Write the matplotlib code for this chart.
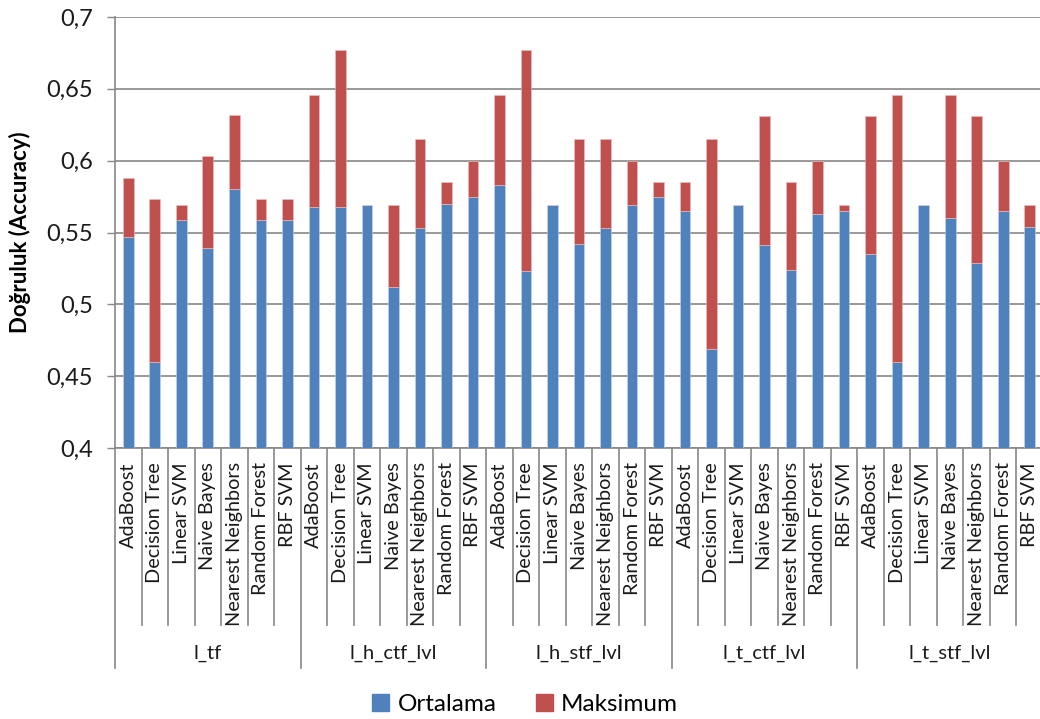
import numpy as np
import matplotlib
matplotlib.use("Agg")
import matplotlib.pyplot as plt
from matplotlib.patches import Patch

plt.rcParams["font.family"] = ["Lato", "DejaVu Sans"]

# Sınıflandırıcılar ve öznitelik grupları
classifiers = ["AdaBoost", "Decision Tree", "Linear SVM", "Naive Bayes",
               "Nearest Neighbors", "Random Forest", "RBF SVM"]
groups = ["l_tf", "l_h_ctf_lvl", "l_h_stf_lvl", "l_t_ctf_lvl", "l_t_stf_lvl"]

# Ortalama doğruluk (her grup için 7 sınıflandırıcı)
mean_l_tf = [0.547, 0.460, 0.559, 0.539, 0.580, 0.559, 0.559]
mean_l_h_ctf = [0.568, 0.568, 0.569, 0.512, 0.553, 0.570, 0.575]
mean_l_h_stf = [0.583, 0.523, 0.569, 0.542, 0.553, 0.569, 0.575]
mean_l_t_ctf = [0.565, 0.469, 0.569, 0.541, 0.524, 0.563, 0.565]
mean_l_t_stf = [0.535, 0.460, 0.569, 0.560, 0.529, 0.565, 0.554]

# Maksimum doğruluk
max_l_tf = [0.588, 0.573, 0.569, 0.603, 0.632, 0.573, 0.573]
max_l_h_ctf = [0.646, 0.677, 0.569, 0.569, 0.615, 0.585, 0.600]
max_l_h_stf = [0.646, 0.677, 0.569, 0.615, 0.615, 0.600, 0.585]
max_l_t_ctf = [0.585, 0.615, 0.569, 0.631, 0.585, 0.600, 0.569]
max_l_t_stf = [0.631, 0.646, 0.569, 0.646, 0.631, 0.600, 0.569]

yticks = [0.4, 0.45, 0.5, 0.55, 0.6, 0.65, 0.7]
ytick_labels = ["0,4", "0,45", "0,5", "0,55", "0,6", "0,65", "0,7"]

means = np.array(mean_l_tf + mean_l_h_ctf + mean_l_h_stf + mean_l_t_ctf + mean_l_t_stf)
maxs = np.array(max_l_tf + max_l_h_ctf + max_l_h_stf + max_l_t_ctf + max_l_t_stf)
n_cls = len(classifiers)
x = np.arange(len(means))

blue = "#4F81BD"
red = "#C0504D"
grid_c = "#878787"

fig = plt.figure(figsize=(10.4, 7.19), dpi=100)
ax = fig.add_axes([115 / 1040, 271 / 719, 928 / 1040, 431 / 719])

ax.bar(x, means, width=0.4, color=blue, edgecolor="#c9d7ea", linewidth=0.4,
       label="Ortalama", zorder=3)
ax.bar(x, maxs - means, bottom=means, width=0.4, color=red, edgecolor="#eac3c2",
       linewidth=0.4, label="Maksimum", zorder=3)

ax.set_xlim(-0.5, len(x) - 0.5)
ax.set_ylim(0.4, 0.7)
ax.set_yticks(yticks)
ax.set_yticklabels(ytick_labels, fontsize=17, color="#1a1a1a")
ax.yaxis.grid(True, color=grid_c, linewidth=1.2, zorder=0)
ax.tick_params(axis="y", direction="out", length=6, width=1.0, color=grid_c, pad=10)
ax.set_xticks([])

for side in ["top", "right"]:
    ax.spines[side].set_visible(False)
for side in ["left", "bottom"]:
    ax.spines[side].set_color(grid_c)
    ax.spines[side].set_linewidth(1.2)

ax.set_ylabel("Doğruluk (Accuracy)", fontsize=16, fontweight="bold", labelpad=11)

# Çok seviyeli kategori ekseni
trans = ax.get_xaxis_transform()
for i, name in enumerate(classifiers * len(groups)):
    ax.text(i, -0.033, name, rotation=90, ha="center", va="top",
            fontsize=14.3, color="#1a1a1a", transform=trans)

for b in range(len(x) + 1):
    edge = b - 0.5
    y_end = -0.51 if b % n_cls == 0 else -0.41
    ax.plot([edge, edge], [0, y_end], color=grid_c, linewidth=1.2,
            transform=trans, clip_on=False)

for g, name in enumerate(groups):
    center = g * n_cls + (n_cls - 1) / 2
    ax.text(center, -0.476, name, ha="center", va="center",
            fontsize=14.5, color="#1a1a1a", transform=trans)

handles = [Patch(color=blue, label="Ortalama"), Patch(color=red, label="Maksimum")]
fig.legend(handles=handles, loc="center", bbox_to_anchor=(0.505, 0.02), ncol=2,
           frameon=False, fontsize=17.5, handlelength=0.7, handleheight=0.7,
           handletextpad=0.35, columnspacing=1.6)

fig.savefig("out.png", dpi=100, facecolor="white")
